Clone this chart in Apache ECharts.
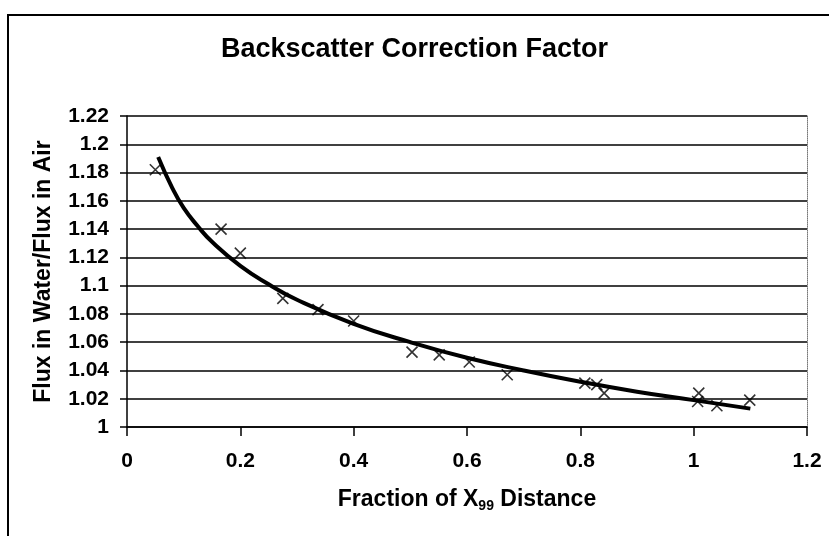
<!DOCTYPE html>
<html>
<head>
<meta charset="utf-8">
<script src="https://cdn.jsdelivr.net/npm/echarts@6/dist/echarts.min.js"></script>
<style>
  html, body { margin: 0; padding: 0; background: #fff; }
  #chart { width: 829px; height: 536px; }
</style>
</head>
<body>
<div id="chart"></div>
<script>
// measured points (fraction of X99 distance, flux ratio)
const fracX = [0.05, 0.166, 0.2, 0.275, 0.337, 0.40, 0.503, 0.551, 0.604, 0.671, 0.808, 0.829, 0.842, 1.009, 1.007, 1.041, 1.099];
const ratioY = [1.182, 1.140, 1.123, 1.091, 1.083, 1.075, 1.053, 1.051, 1.046, 1.037, 1.031, 1.030, 1.024, 1.024, 1.018, 1.015, 1.019];

// trend line
const trendX = [0.055, 0.08, 0.1, 0.125, 0.15, 0.2, 0.25, 0.3, 0.4, 0.5, 0.6, 0.7, 0.8, 0.9, 1.0, 1.1];
const trendY = [1.191, 1.169, 1.155, 1.142, 1.131, 1.114, 1.101, 1.090, 1.073, 1.060, 1.049, 1.040, 1.032, 1.025, 1.019, 1.013];

const font = 'Liberation Sans, Arial, sans-serif';

let myChart = echarts.init(document.getElementById('chart'));

let option = {
  animation: false,
  backgroundColor: '#fff',
  title: {
    text: 'Backscatter Correction Factor',
    left: 'center',
    top: 31,
    textStyle: { fontFamily: font, fontSize: 27, fontWeight: 'bold', color: '#000' }
  },
  graphic: [{
    type: 'rect',
    shape: { x: 8, y: 15, width: 900, height: 600 },
    style: { fill: 'none', stroke: '#000', lineWidth: 2 },
    silent: true
  }],
  grid: { left: 127, right: 22, top: 116, bottom: 109 },
  xAxis: {
    type: 'value',
    min: 0,
    max: 1.2,
    interval: 0.2,
    name: 'Fraction of X{sub|99} Distance',
    nameLocation: 'middle',
    nameGap: 60,
    nameTextStyle: {
      fontFamily: font, fontSize: 23, fontWeight: 'bold', color: '#000',
      rich: {
        sub: { fontFamily: font, fontSize: 14, fontWeight: 'bold', color: '#000', verticalAlign: 'bottom', padding: [12, 0, 0, 0] }
      }
    },
    axisLine: { onZero: false, lineStyle: { color: '#000', width: 1.5 } },
    axisTick: { show: true, length: 9, lineStyle: { color: '#000', width: 1.5 } },
    axisLabel: {
      margin: 24,
      fontFamily: font, fontSize: 21, fontWeight: 'bold', color: '#000',
      formatter: function (v) { return String(+v.toFixed(1)); }
    },
    splitLine: { show: false }
  },
  yAxis: [{
    type: 'value',
    min: 1,
    max: 1.22,
    interval: 0.02,
    name: 'Flux in Water/Flux in Air',
    nameLocation: 'middle',
    nameGap: 72,
    nameTextStyle: { fontFamily: font, fontSize: 23, fontWeight: 'bold', color: '#000' },
    axisLine: { show: true, lineStyle: { color: '#000', width: 1.5 } },
    axisTick: { show: true, length: 7, lineStyle: { color: '#000', width: 1.5 } },
    axisLabel: {
      margin: 18,
      fontFamily: font, fontSize: 21, fontWeight: 'bold', color: '#000',
      formatter: function (v) { return String(+v.toFixed(2)); }
    },
    splitLine: { show: true, lineStyle: { color: '#000', width: 1.5 } }
  }, {
    type: 'value',
    position: 'right',
    min: 1,
    max: 1.22,
    interval: 0.02,
    axisLine: { show: true, lineStyle: { color: '#777', width: 1, type: 'dotted' } },
    axisTick: { show: false },
    axisLabel: { show: false },
    splitLine: { show: false }
  }],
  series: [
    {
      name: 'trend',
      type: 'line',
      smooth: true,
      showSymbol: false,
      data: trendX.map((x, i) => [x, trendY[i]]),
      lineStyle: { color: '#000', width: 4 },
      z: 3
    },
    {
      name: 'measured',
      type: 'scatter',
      symbol: 'path://M0,0L10,10M10,0L0,10',
      symbolSize: 11,
      data: fracX.map((x, i) => [x, ratioY[i]]),
      itemStyle: { color: 'rgba(0,0,0,0)', borderColor: '#000', borderWidth: 1.6 },
      z: 4
    }
  ]
};

myChart.setOption(option);
</script>
</body>
</html>
